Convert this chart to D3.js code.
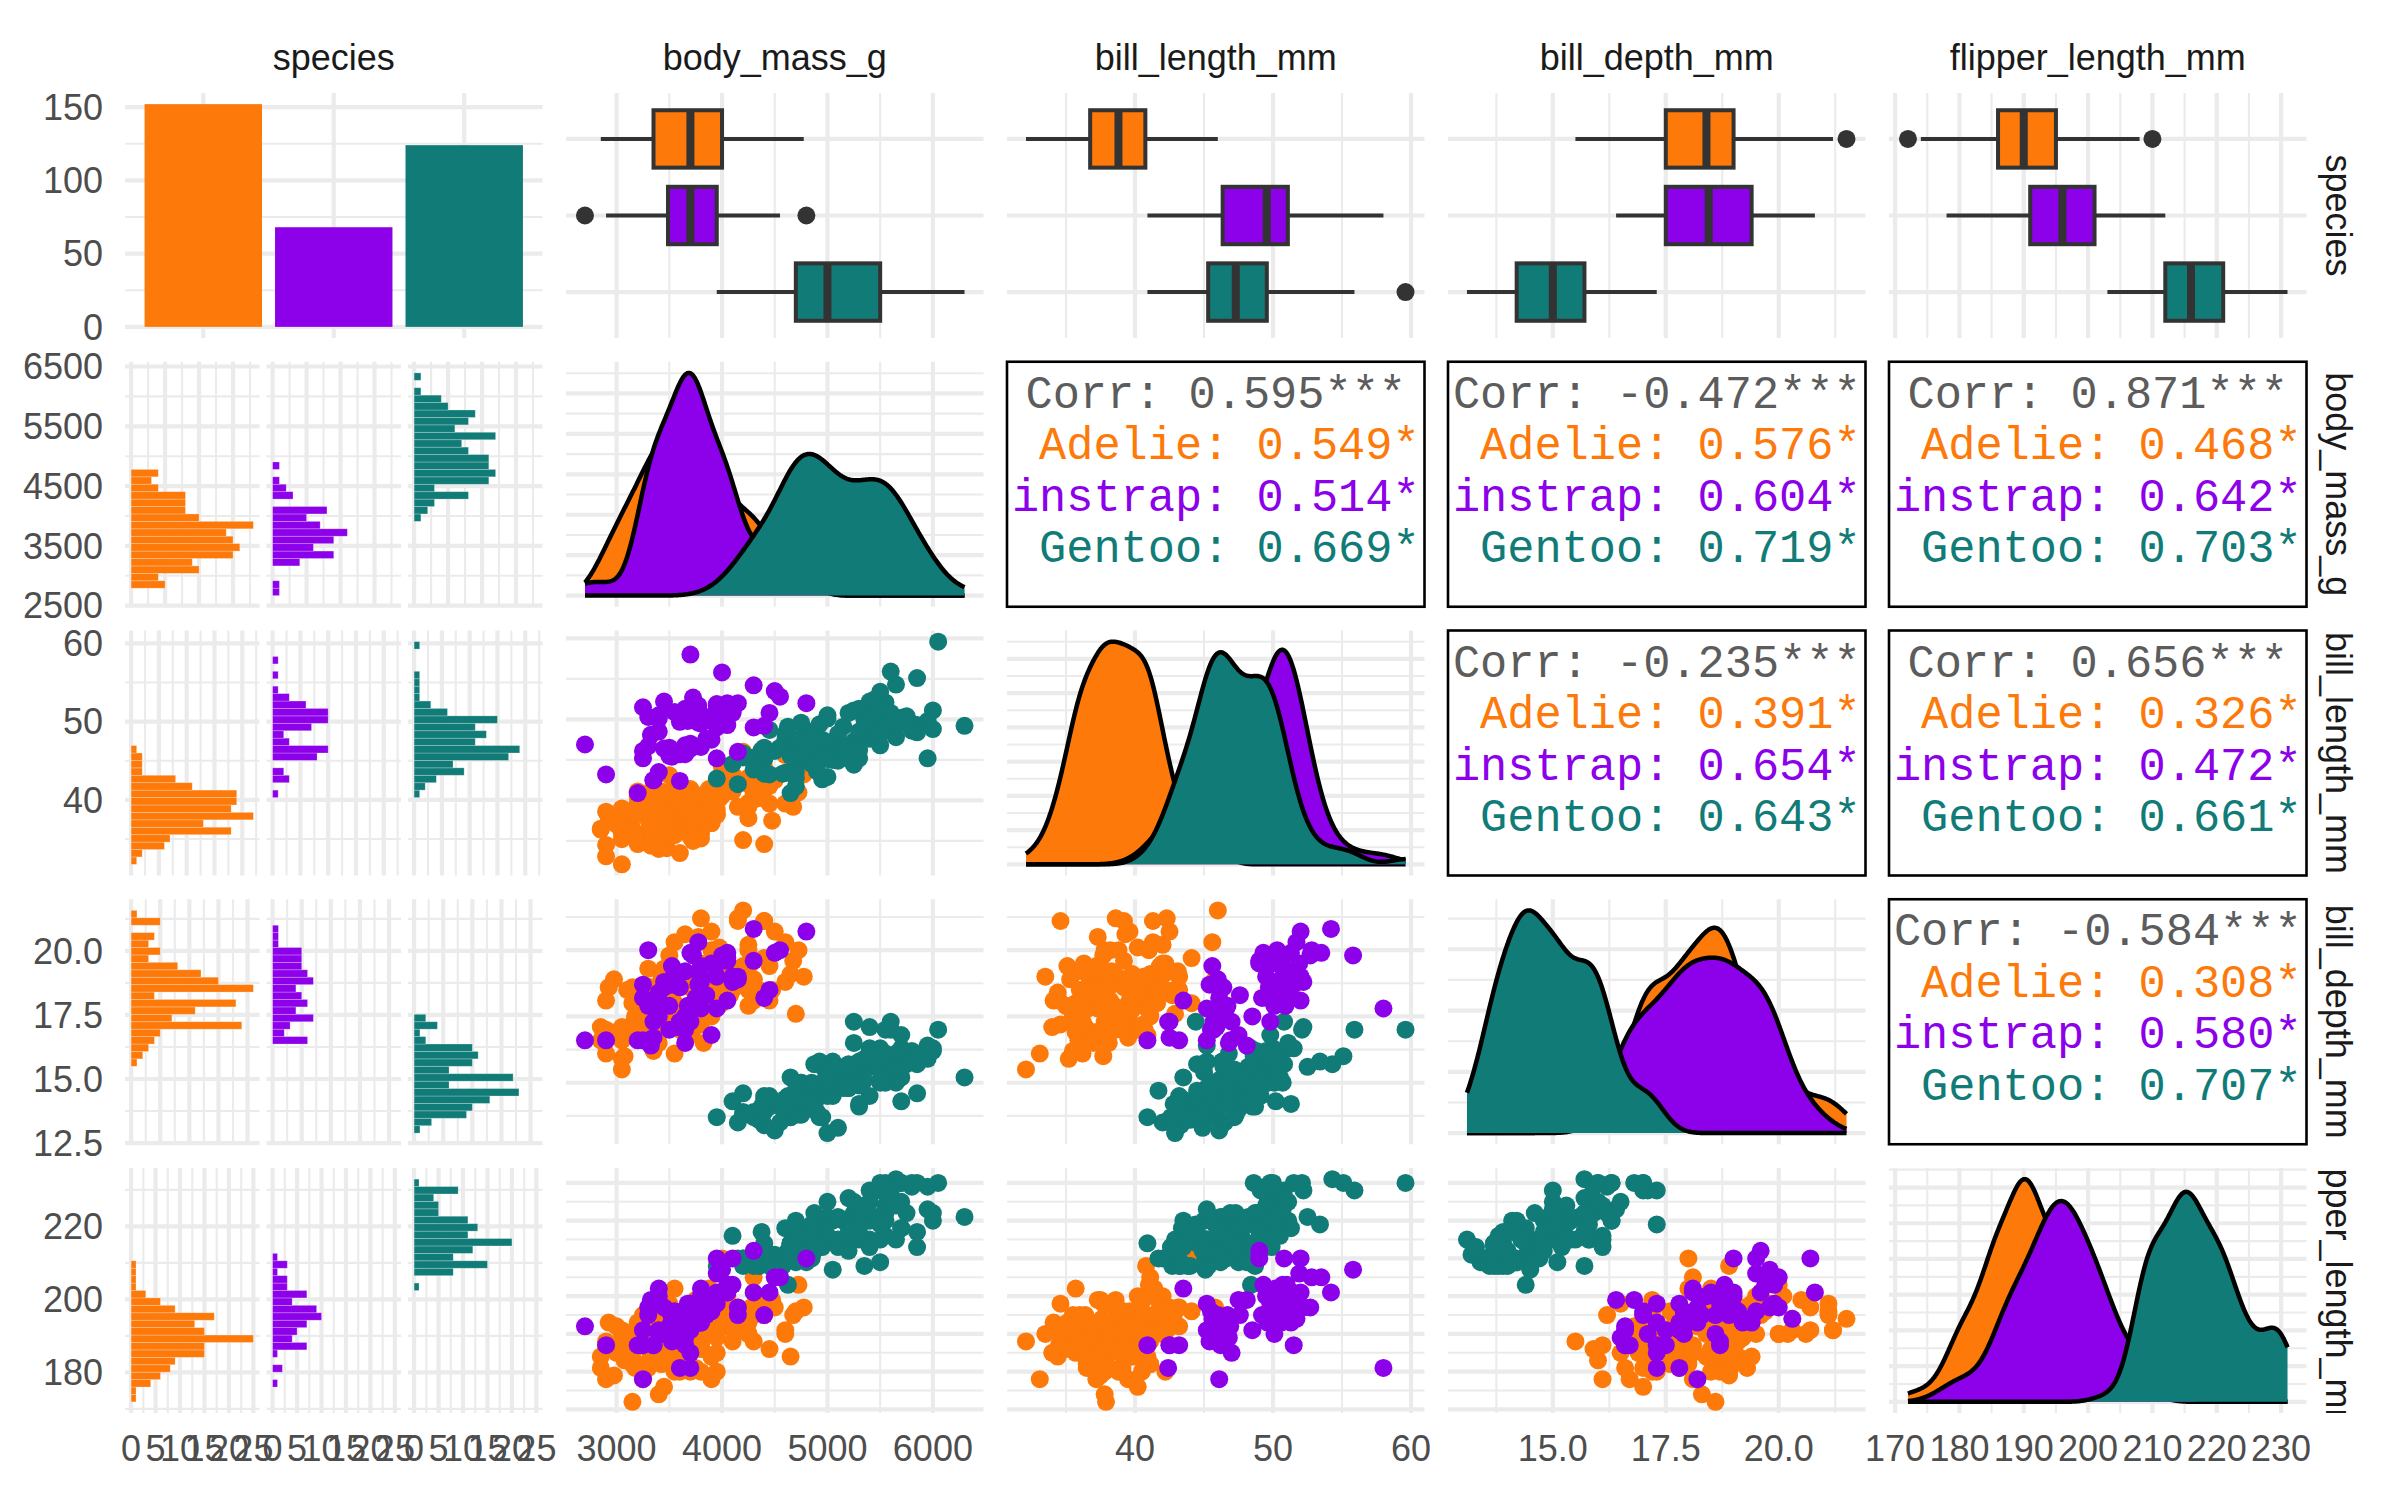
<!DOCTYPE html>
<html>
<head>
<meta charset="utf-8">
<title>penguins pairs</title>
<script src="https://cdn.jsdelivr.net/npm/d3@7"></script>
<style>
  body { margin: 0; background: #ffffff; }
  text { font-family: "Liberation Sans", Arial, Helvetica, sans-serif; }
</style>
</head>
<body>
<svg id="mainframe" width="2400" height="1491"></svg>
<script>
// rows are [bill_length_mm, bill_depth_mm, flipper_length_mm, body_mass_g], null = no measurements
adelie = [
[39.1,18.7,181,3750],[39.5,17.4,186,3800],[40.3,18,195,3250],null,[36.7,19.3,193,3450],[39.3,20.6,190,3650],[38.9,17.8,181,3625],[39.2,19.6,195,4675],[34.1,18.1,193,3475],[42,20.2,190,4250],
[37.8,17.1,186,3300],[37.8,17.3,180,3700],[41.1,17.6,182,3200],[38.6,21.2,191,3800],[34.6,21.1,198,4400],[36.6,17.8,185,3700],[38.7,19,195,3450],[42.5,20.7,197,4500],[34.4,18.4,184,3325],[46,21.5,194,4200],
[37.8,18.3,174,3400],[37.7,18.7,180,3600],[35.9,19.2,189,3800],[38.2,18.1,185,3950],[38.8,17.2,180,3800],[35.3,18.9,187,3800],[40.6,18.6,183,3550],[40.5,17.9,187,3200],[37.9,18.6,172,3150],[40.5,18.9,180,3950],
[39.5,16.7,178,3250],[37.2,18.1,178,3900],[39.5,17.8,188,3300],[40.9,18.9,184,3900],[36.4,17,195,3325],[39.2,21.1,196,4150],[38.8,20,190,3950],[42.2,18.5,180,3550],[37.6,19.3,181,3300],[39.8,19.1,184,4650],
[36.5,18,182,3150],[40.8,18.4,195,3900],[36,18.5,186,3100],[44.1,19.7,196,4400],[37,16.9,185,3000],[39.6,18.8,190,4600],[41.1,19,182,3425],[37.5,18.9,179,2975],[36,17.9,190,3450],[42.3,21.2,191,4150],
[39.6,17.7,186,3500],[40.1,18.9,188,4300],[35,17.9,190,3450],[42,19.5,200,4050],[34.5,18.1,187,2900],[41.4,18.6,191,3700],[39,17.5,186,3550],[40.6,18.8,193,3800],[36.5,16.6,181,2850],[37.6,19.1,194,3750],
[35.7,16.9,185,3150],[41.3,21.1,195,4400],[37.6,17,185,3600],[41.1,18.2,192,4050],[36.4,17.1,184,2850],[41.6,18,192,3950],[35.5,16.2,195,3350],[41.1,19.1,188,4100],[35.9,16.6,190,3050],[41.8,19.4,198,4450],
[33.5,19,190,3600],[39.7,18.4,190,3900],[39.6,17.2,196,3550],[45.8,18.9,197,4150],[35.5,17.5,190,3700],[42.8,18.5,195,4250],[40.9,16.8,191,3700],[37.2,19.4,184,3900],[36.2,16.1,187,3550],[42.1,19.1,195,4000],
[34.6,17.2,189,3200],[42.9,17.6,196,4700],[36.7,18.8,187,3800],[35.1,19.4,193,4200],[37.3,17.8,191,3350],[41.3,20.3,194,3550],[36.3,19.5,190,3800],[36.9,18.6,189,3500],[38.3,19.2,189,3950],[38.9,18.8,190,3600],
[35.7,18,202,3550],[41.1,18.1,205,4300],[34,17.1,185,3400],[39.6,18.1,186,4450],[36.2,17.3,187,3300],[40.8,18.9,208,4300],[38.1,18.6,190,3700],[40.3,18.5,196,4350],[33.1,16.1,178,2900],[43.2,18.5,192,4100],
[35,17.9,192,3725],[41,20,203,4725],[37.7,16,183,3075],[37.8,20,190,4250],[37.9,18.6,193,2925],[39.7,18.9,184,3550],[38.6,17.2,199,3750],[38.2,20,190,3900],[38.1,17,181,3175],[43.2,19,197,4775],
[38.1,16.5,198,3825],[45.6,20.3,191,4600],[39.7,17.7,193,3200],[42.2,19.5,197,4275],[39.6,20.7,191,3900],[42.7,18.3,196,4075],[38.6,17,188,2900],[37.3,20.5,199,3775],[35.7,17,189,3350],[41.1,18.6,189,3325],
[36.2,17.2,187,3150],[37.7,19.8,198,3500],[40.2,17,176,3450],[41.4,18.5,202,3875],[35.2,15.9,186,3050],[40.6,19,199,4000],[38.8,17.6,191,3275],[41.5,18.3,195,4300],[39,17.1,191,3050],[44.1,18,210,4000],
[38.5,17.9,190,3325],[43.1,19.2,197,3500],[36.8,18.5,193,3500],[37.5,18.5,199,4475],[38.1,17.6,187,3425],[41.1,17.5,190,3900],[35.6,17.5,191,3175],[40.2,20.1,200,3975],[37,16.5,185,3400],[39.7,17.9,193,4250],
[40.2,17.1,193,3400],[40.6,17.2,187,3475],[32.1,15.5,188,3050],[40.7,17,190,3725],[37.3,16.8,192,3000],[39,18.7,185,3650],[39.2,18.6,190,4250],[36.6,18.4,184,3475],[36,17.8,195,3450],[37.8,18.1,193,3750],
[36,17.1,187,3700],[41.5,18.5,201,4000]
];

gentoo = [
[46.1,13.2,211,4500],[50,16.3,230,5700],[48.7,14.1,210,4450],[50,15.2,218,5700],[47.6,14.5,215,5400],[46.5,13.5,210,4550],[45.4,14.6,211,4800],[46.7,15.3,219,5200],[43.3,13.4,209,4400],[46.8,15.4,215,5150],
[40.9,13.7,214,4650],[49,16.1,216,5550],[45.5,13.7,214,4650],[48.4,14.6,213,5850],[45.8,14.6,210,4200],[49.3,15.7,217,5850],[42,13.5,210,4150],[49.2,15.2,221,6300],[46.2,14.5,209,4800],[48.7,15.1,222,5350],
[50.2,14.3,218,5700],[45.1,14.5,215,5000],[46.5,14.5,213,4400],[46.3,15.8,215,5050],[42.9,13.1,215,5000],[46.1,15.1,215,5100],[44.5,14.3,216,4100],[47.8,15,215,5650],[48.2,14.3,210,4600],[50,15.3,220,5550],
[47.3,15.3,222,5250],[42.8,14.2,209,4700],[45.1,14.5,207,5050],[59.6,17,230,6050],[49.1,14.8,220,5150],[48.4,16.3,220,5400],[42.6,13.7,213,4950],[44.4,17.3,219,5250],[44,13.6,208,4350],[48.7,15.7,208,5350],
[42.7,13.7,208,3950],[49.6,16,225,5700],[45.3,13.7,210,4300],[49.6,15,216,4750],[50.5,15.9,222,5550],[43.6,13.9,217,4900],[45.5,13.9,210,4200],[50.5,15.9,225,5400],[44.9,13.3,213,5100],[45.2,15.8,215,5300],
[46.6,14.2,210,4850],[48.5,14.1,220,5300],[45.1,14.4,210,4400],[50.1,15,225,5000],[46.5,14.4,217,4900],[45,15.4,220,5050],[43.8,13.9,208,4300],[45.5,15,220,5000],[43.2,14.5,208,4450],[50.4,15.3,224,5550],
[45.3,13.8,208,4200],[46.2,14.9,221,5300],[45.7,13.9,214,4400],[54.3,15.7,231,5650],[45.8,14.2,219,4700],[49.8,16.8,230,5700],[46.2,14.4,214,4650],[49.5,16.2,229,5800],[43.5,14.2,220,4700],[50.7,15,223,5550],
[47.7,15,216,4750],[46.4,15.6,221,5000],[48.2,15.6,221,5100],[46.5,14.8,217,5200],[46.4,15,216,4700],[48.6,16,230,5800],[47.5,14.2,209,4600],[51.1,16.3,220,6000],[45.2,13.8,215,4750],[45.2,16.4,223,5950],
[49.1,14.5,212,4625],[52.5,15.6,221,5450],[47.4,14.6,212,4725],[50,15.9,224,5350],[44.9,13.8,212,4750],[50.8,17.3,228,5600],[43.4,14.4,218,4600],[51.3,14.2,218,5300],[47.5,14,212,4875],[52.1,17,230,5550],
[47.5,15,218,4950],[52.2,17.1,228,5400],[45.5,14.5,212,4750],[49.5,16.1,224,5650],[44.5,14.7,214,4850],[50.8,15.7,226,5200],[49.4,15.8,216,4925],[46.9,14.6,222,4875],[48.4,14.4,203,4625],[51.1,16.5,225,5250],
[48.5,15,219,4850],[55.9,17,228,5600],[47.2,15.5,215,4975],[49.1,15,228,5500],[47.3,13.8,216,4725],[46.8,16.1,215,5500],[41.7,14.7,210,4700],[53.4,15.8,219,5500],[43.3,14,208,4575],[48.1,15.1,209,5500],
[50.5,15.2,216,5000],[49.8,15.9,229,5950],[43.5,15.2,213,4650],[51.5,16.3,230,5500],[46.2,14.1,217,4375],[55.1,16,230,5850],[44.5,15.7,217,4875],[48.8,16.2,222,6000],[47.2,13.7,214,4925],null,
[46.8,14.3,215,4850],[50.4,15.7,222,5750],[45.2,14.8,212,5200],[49.9,16.1,213,5400]
];

chinstrap = [
[46.5,17.9,192,3500],[50,19.5,196,3900],[51.3,19.2,193,3650],[45.4,18.7,188,3525],[52.7,19.8,197,3725],[45.2,17.8,198,3950],[46.1,18.2,178,3250],[51.3,18.2,197,3750],[46,18.9,195,4150],[51.3,19.9,198,3700],
[46.6,17.8,193,3800],[51.7,20.3,194,3775],[47,17.3,185,3700],[52,18.1,201,4050],[45.9,17.1,190,3575],[50.5,19.6,201,4050],[50.3,20,197,3300],[58,17.8,181,3700],[46.4,18.6,190,3450],[49.2,18.2,195,4400],
[42.4,17.3,181,3600],[48.5,17.5,191,3400],[43.2,16.6,187,2900],[50.6,19.4,193,3800],[46.7,17.9,195,3300],[52,19,197,4150],[50.5,18.4,200,3400],[49.5,19,200,3800],[46.4,17.8,191,3700],[52.8,20,205,4550],
[40.9,16.6,187,3200],[54.2,20.8,201,4300],[42.5,16.7,187,3350],[51,18.8,203,4100],[49.7,18.6,195,3600],[47.5,16.8,199,3900],[47.6,18.3,195,3850],[52,20.7,210,4800],[46.9,16.6,192,2700],[53.5,19.9,205,4500],
[49,19.5,210,3950],[46.2,17.5,187,3650],[50.9,19.1,196,3550],[45.5,17,196,3500],[50.9,17.9,196,3675],[50.8,18.5,201,4450],[50.1,17.9,190,3400],[49,19.6,212,4300],[51.5,18.7,187,3250],[49.8,17.3,198,3675],
[48.1,16.4,199,3325],[51.4,19,201,3950],[45.7,17.3,193,3600],[50.7,19.7,203,4050],[42.5,17.3,187,3350],[52.2,18.8,197,3450],[45.2,16.6,191,3250],[49.3,19.9,203,4050],[50.2,18.8,202,3800],[45.6,19.4,194,3525],
[51.9,19.5,206,3950],[46.8,16.5,189,3650],[45.7,17,195,3650],[55.8,19.8,207,4000],[43.5,18.1,202,3400],[49.6,18.2,193,3775],[50.8,19,210,4100],[50.2,18.7,198,3775]
];

speciesNames = ['Adelie', 'Chinstrap', 'Gentoo'];
speciesCols = ['#FC790A', '#8C00EA', '#117B77'];
varNames = ['species', 'body_mass_g', 'bill_length_mm', 'bill_depth_mm', 'flipper_length_mm'];
varColumn = {bill_length_mm: 0, bill_depth_mm: 1, flipper_length_mm: 2, body_mass_g: 3};

// axis breaks
countBreaks = [0, 50, 100, 150];
histCountStep = 5;
contBreaks = {
  body_mass_g: [3000, 4000, 5000, 6000],
  bill_length_mm: [40, 50, 60],
  bill_depth_mm: [15, 17.5, 20],
  flipper_length_mm: [170, 180, 190, 200, 210, 220, 230]
};
histBreaks = {
  body_mass_g: [2500, 3500, 4500, 5500, 6500],
  bill_length_mm: [40, 50, 60],
  bill_depth_mm: [12.5, 15, 17.5, 20],
  flipper_length_mm: [180, 200, 220]
};
labelFormat = {body_mass_g: 'd', bill_length_mm: 'd', bill_depth_mm: '.1f', flipper_length_mm: 'd'};

// correlation labels (upper triangle, row var / column var)
corrPairs = [['body_mass_g', 'bill_length_mm'], ['body_mass_g', 'bill_depth_mm'], ['body_mass_g', 'flipper_length_mm'],
             ['bill_length_mm', 'bill_depth_mm'], ['bill_length_mm', 'flipper_length_mm'], ['bill_depth_mm', 'flipper_length_mm']];
corrAll = ['0.595', '-0.472', '0.871', '-0.235', '0.656', '-0.584'];
corrAdelie = ['0.549', '0.576', '0.468', '0.391', '0.326', '0.308'];
corrChinstrap = ['0.514', '0.604', '0.642', '0.654', '0.472', '0.580'];
corrGentoo = ['0.669', '0.719', '0.703', '0.643', '0.661', '0.707'];
corrStars = '***';

// all rows in file order (Adelie, Gentoo, Chinstrap) - this is also the point drawing order
penguins = [];
[['Adelie', adelie], ['Gentoo', gentoo], ['Chinstrap', chinstrap]].forEach(function(d) {
  d[1].forEach(function(r) { penguins.push({species: d[0], row: r}); });
});
measured = penguins.filter(function(p) { return p.row !== null; });

function val(p, v) { return p.row[varColumn[v]]; }
function valuesOf(v, sp) {
  return measured.filter(function(p) { return !sp || p.species === sp; }).map(function(p) { return val(p, v); });
}
function colOf(sp) { return speciesCols[speciesNames.indexOf(sp)]; }

//layout
margin = {l: 125, t: 93};
panelW = 417.5;
panelH = 245;
colStep = 441;
rowStep = 268.75;
facetGap = 7;
gridCol = '#EBEBEB';
majorW = 4.2;
minorW = 2.1;
tickCol = '#4D4D4D';
stripCol = '#1A1A1A';
fontPx = 36;
boxLine = '#333333';

mainPlot = d3.select('#mainframe');
defs = mainPlot.append('defs');
clipCount = 0;

function addClip(x, y, w, h) {
  var id = 'clip' + (clipCount++);
  defs.append('clipPath').attr('id', id)
    .append('rect').attr('x', x).attr('y', y).attr('width', w).attr('height', h);
  return 'url(#' + id + ')';
}

function expand(d) {
  var s = d[1] - d[0];
  return [d[0] - 0.05 * s, d[1] + 0.05 * s];
}

function majorsIn(br, s) {
  var d = s.domain(), lo = Math.min(d[0], d[1]), hi = Math.max(d[0], d[1]), tol = (hi - lo) * 0.002;
  return br.filter(function(b) { return b >= lo - tol && b <= hi + tol; });
}
function minorsIn(br, s) {
  var d = s.domain(), lo = Math.min(d[0], d[1]), hi = Math.max(d[0], d[1]);
  var step = br[1] - br[0];
  var ext = [br[0] - step].concat(br, [br[br.length - 1] + step]);
  var out = [];
  for (var k = 0; k < ext.length - 1; k++) {
    var m = (ext[k] + ext[k + 1]) / 2;
    if (m >= lo && m <= hi) out.push(m);
  }
  return out;
}

function drawGrid(g, w, h, xs, xMaj, xMin, ys, yMaj, yMin) {
  var gg = g.append('g').attr('class', 'grid');
  function vline(v, sw) {
    gg.append('line').attr('x1', xs(v)).attr('x2', xs(v)).attr('y1', 0).attr('y2', h)
      .attr('stroke', gridCol).attr('stroke-width', sw);
  }
  function hline(v, sw) {
    gg.append('line').attr('x1', 0).attr('x2', w).attr('y1', ys(v)).attr('y2', ys(v))
      .attr('stroke', gridCol).attr('stroke-width', sw);
  }
  xMin.forEach(function(v) { vline(v, minorW); });
  yMin.forEach(function(v) { hline(v, minorW); });
  xMaj.forEach(function(v) { vline(v, majorW); });
  yMaj.forEach(function(v) { hline(v, majorW); });
}

function contScale(v, r0, r1) {
  return d3.scaleLinear().domain(expand(d3.extent(valuesOf(v)))).range([r0, r1]);
}

function panelGroup(i, j) {
  return mainPlot.append('g').attr('transform', 'translate(' + (margin.l + j * colStep) + ',' + (margin.t + i * rowStep) + ')');
}

// gaussian kde with R's nrd0 bandwidth
function nrd0(x) {
  var s = x.slice().sort(d3.ascending);
  var sd = d3.deviation(s);
  var iqr = d3.quantileSorted(s, 0.75) - d3.quantileSorted(s, 0.25);
  var lo = Math.min(sd, iqr / 1.34);
  if (!lo) lo = sd || 1;
  return 0.9 * lo * Math.pow(s.length, -0.2);
}
function kde(x, at) {
  var h = nrd0(x), n = x.length, c = 1 / (n * h * Math.sqrt(2 * Math.PI));
  return at.map(function(g) {
    var s = 0;
    x.forEach(function(v) { var z = (g - v) / h; s += Math.exp(-0.5 * z * z); });
    return s * c;
  });
}

function boxStats(x) {
  var s = x.slice().sort(d3.ascending);
  var q1 = d3.quantileSorted(s, 0.25), q2 = d3.quantileSorted(s, 0.5), q3 = d3.quantileSorted(s, 0.75);
  var iqr = q3 - q1;
  var lo = d3.min(s.filter(function(v) { return v >= q1 - 1.5 * iqr; }));
  var hi = d3.max(s.filter(function(v) { return v <= q3 + 1.5 * iqr; }));
  return {q1: q1, q2: q2, q3: q3, lo: lo, hi: hi, out: s.filter(function(v) { return v < lo || v > hi; })};
}

// histogram bins like stat_bin(bins = 30): width = range/29, boundaries at width/2 + k*width, right closed
function histOf(v) {
  var ext = d3.extent(valuesOf(v));
  var w = (ext[1] - ext[0]) / 29;
  var boundary = w / 2;
  var origin = boundary + Math.floor((ext[0] - boundary) / w) * w;
  var nb = Math.floor((ext[1] + (1 - 1e-8) * w - origin) / w);
  var fuzz = 1e-7 * w;
  var bins = speciesNames.map(function(sp) {
    var c = d3.range(nb).map(function() { return 0; });
    valuesOf(v, sp).forEach(function(x) {
      var k = Math.ceil((x - origin - fuzz) / w) - 1;
      k = Math.max(0, Math.min(nb - 1, k));
      c[k] += 1;
    });
    return c;
  });
  return {b0: origin, w: w, nb: nb, bins: bins, maxCount: d3.max(bins, function(c) { return d3.max(c); })};
}

function unitScale(n, len) {
  // discrete positions with ggplot's 0.6 expansion
  var u = len / (n + 0.2);
  return {u: u, pos: function(k) { return (k + 0.6) * u; }};
}

histScales = {};
contScalesX = {};

// ---- panels ----
for (var i = 0; i < 5; i++) {
  for (var j = 0; j < 5; j++) {
    var g = panelGroup(i, j);
    var vy = varNames[i], vx = varNames[j];

    if (i === 0 && j === 0) {
      // species counts
      var counts = speciesNames.map(function(sp) { return penguins.filter(function(p) { return p.species === sp; }).length; });
      var xu = unitScale(3, panelW);
      var yc = d3.scaleLinear().domain(expand([0, d3.max(counts)])).range([panelH, 0]);
      histScales.species = yc;
      drawGrid(g, panelW, panelH, function(k) { return xu.pos(k); }, [0, 1, 2], [], yc, majorsIn(countBreaks, yc), minorsIn(countBreaks, yc));
      g.selectAll('rect.bar').data(counts).enter().append('rect')
        .attr('x', function(d, k) { return xu.pos(k) - 0.45 * xu.u; })
        .attr('width', 0.9 * xu.u)
        .attr('y', function(d) { return yc(d); })
        .attr('height', function(d) { return yc(0) - yc(d); })
        .attr('fill', function(d, k) { return speciesCols[k]; });
    } else if (i === 0) {
      // boxplots of the column variable by species
      var xs = contScale(vx, 0, panelW);
      contScalesX[vx] = xs;
      var yu = unitScale(3, panelH);
      drawGrid(g, panelW, panelH, xs, majorsIn(contBreaks[vx], xs), minorsIn(contBreaks[vx], xs),
               function(k) { return yu.pos(k); }, [0, 1, 2], []);
      speciesNames.forEach(function(sp, k) {
        var st = boxStats(valuesOf(vx, sp));
        var cy = yu.pos(k), bh = 0.75 * yu.u;
        g.append('line').attr('x1', xs(st.lo)).attr('x2', xs(st.hi)).attr('y1', cy).attr('y2', cy)
          .attr('stroke', boxLine).attr('stroke-width', 4);
        g.append('rect').attr('x', xs(st.q1)).attr('width', xs(st.q3) - xs(st.q1))
          .attr('y', cy - bh / 2).attr('height', bh)
          .attr('fill', speciesCols[k]).attr('stroke', boxLine).attr('stroke-width', 4);
        g.append('line').attr('x1', xs(st.q2)).attr('x2', xs(st.q2)).attr('y1', cy - bh / 2).attr('y2', cy + bh / 2)
          .attr('stroke', boxLine).attr('stroke-width', 8);
        st.out.forEach(function(o) {
          g.append('circle').attr('cx', xs(o)).attr('cy', cy).attr('r', 9).attr('fill', boxLine);
        });
      });
    } else if (j === 0) {
      // faceted histograms, one strip per species
      var h = histOf(vy);
      var yh = d3.scaleLinear().domain(expand([h.b0, h.b0 + h.nb * h.w])).range([panelH, 0]);
      histScales[vy] = yh;
      var subW = (panelW - 2 * facetGap) / 3;
      var xh = d3.scaleLinear().domain(expand([0, h.maxCount])).range([0, subW]);
      var cTicks = d3.range(0, h.maxCount + 1e-9, histCountStep);
      if (i === 4) { histScales.bottomCount = xh; histScales.bottomTicks = cTicks; histScales.subW = subW; }
      speciesNames.forEach(function(sp, k) {
        var sg = g.append('g').attr('transform', 'translate(' + (k * (subW + facetGap)) + ',0)');
        drawGrid(sg, subW, panelH, xh, cTicks, minorsIn(cTicks, xh), yh, majorsIn(histBreaks[vy], yh), minorsIn(histBreaks[vy], yh));
        h.bins[k].forEach(function(c, b) {
          if (c === 0) return;
          var lo = h.b0 + b * h.w, hi = lo + h.w;
          sg.append('rect').attr('x', xh(0)).attr('width', xh(c) - xh(0))
            .attr('y', yh(hi)).attr('height', yh(lo) - yh(hi))
            .attr('fill', speciesCols[k]).attr('stroke', '#ffffff').attr('stroke-width', 0.8).attr('stroke-opacity', 0.3);
        });
      });
    } else if (i === j) {
      // density on the diagonal
      var xs = contScale(vx, 0, panelW);
      contScalesX[vx] = xs;
      var ext = d3.extent(valuesOf(vx));
      var at = d3.range(512).map(function(k) { return ext[0] + k * (ext[1] - ext[0]) / 511; });
      var dens = speciesNames.map(function(sp) { return kde(valuesOf(vx, sp), at); });
      var maxD = d3.max(dens, function(d) { return d3.max(d); });
      var yd = d3.scaleLinear().domain(expand([0, maxD])).range([panelH, 0]);
      var dTicks = d3.ticks(yd.domain()[0], yd.domain()[1], 5);
      drawGrid(g, panelW, panelH, xs, majorsIn(contBreaks[vx], xs), minorsIn(contBreaks[vx], xs), yd, dTicks, minorsIn(dTicks, yd));
      var area = d3.area().x(function(d, k) { return xs(at[k]); }).y0(yd(0)).y1(function(d) { return yd(d); });
      var line = d3.line().x(function(d, k) { return xs(at[k]); }).y(function(d) { return yd(d); });
      dens.forEach(function(d, k) {
        g.append('path').attr('d', area(d)).attr('fill', speciesCols[k]);
        g.append('path').attr('d', line(d)).attr('fill', 'none').attr('stroke', '#000000')
          .attr('stroke-width', 4.5).attr('stroke-linejoin', 'round');
      });
    } else if (i < j) {
      // correlation text box
      var ci = -1;
      corrPairs.forEach(function(p, k) { if (p[0] === vy && p[1] === vx) ci = k; });
      var cg = g.append('g').attr('clip-path', addClip(0, 0, panelW, panelH));
      // group keys are right justified to the longest name, then each line is centred
      var lines = [
        {t: 'Corr: ' + corrAll[ci] + corrStars, c: '#5C5C5C'},
        {t: 'Adelie'.padStart(9) + ': ' + corrAdelie[ci] + corrStars, c: speciesCols[0]},
        {t: 'Chinstrap'.padStart(9) + ': ' + corrChinstrap[ci] + corrStars, c: speciesCols[1]},
        {t: 'Gentoo'.padStart(9) + ': ' + corrGentoo[ci] + corrStars, c: speciesCols[2]}
      ];
      var baseY = [46, 97.5, 149, 200.5];
      lines.forEach(function(l, k) {
        cg.append('text').attr('x', panelW / 2).attr('y', baseY[k])
          .attr('text-anchor', 'middle').attr('xml:space', 'preserve').style('white-space', 'pre')
          .style('font-family', '"Liberation Mono", "DejaVu Sans Mono", monospace')
          .style('font-size', '45.3px').attr('fill', l.c).text(l.t);
      });
      g.append('rect').attr('x', 0).attr('y', 0).attr('width', panelW).attr('height', panelH)
        .attr('fill', 'none').attr('stroke', '#000000').attr('stroke-width', 2.6);
    } else {
      // scatter, points in row order
      var xs = contScale(vx, 0, panelW);
      var ys = contScale(vy, panelH, 0);
      drawGrid(g, panelW, panelH, xs, majorsIn(contBreaks[vx], xs), minorsIn(contBreaks[vx], xs),
               ys, majorsIn(contBreaks[vy], ys), minorsIn(contBreaks[vy], ys));
      var pg = g.append('g').attr('clip-path', addClip(0, 0, panelW, panelH));
      pg.selectAll('circle').data(measured).enter().append('circle')
        .attr('cx', function(p) { return xs(val(p, vx)); })
        .attr('cy', function(p) { return ys(val(p, vy)); })
        .attr('r', 9)
        .attr('fill', function(p) { return colOf(p.species); });
    }
  }
}

// ---- strips ----
varNames.forEach(function(v, k) {
  mainPlot.append('text')
    .attr('x', margin.l + k * colStep + panelW / 2).attr('y', 70)
    .attr('text-anchor', 'middle').style('font-size', fontPx + 'px').attr('fill', stripCol).text(v);

  var top = margin.t + k * rowStep;
  mainPlot.append('g').attr('clip-path', addClip(2310, top, 90, panelH))
    .append('text')
    .attr('transform', 'translate(2326,' + (top + panelH / 2) + ') rotate(90)')
    .attr('text-anchor', 'middle').style('font-size', fontPx + 'px').attr('fill', stripCol).text(v);
});

// ---- left axis labels (taken from the first column panels) ----
varNames.forEach(function(v, i) {
  var s = histScales[v];
  var br = i === 0 ? countBreaks : histBreaks[v];
  var fmt = d3.format(i === 0 ? 'd' : labelFormat[v]);
  majorsIn(br, s).forEach(function(b) {
    mainPlot.append('text')
      .attr('x', 103).attr('y', margin.t + i * rowStep + s(b)).attr('dy', '0.355em')
      .attr('text-anchor', 'end').style('font-size', fontPx + 'px').attr('fill', tickCol).text(fmt(b));
  });
});

// ---- bottom axis labels (taken from the last row panels) ----
labY = 1448;
speciesNames.forEach(function(sp, k) {
  histScales.bottomTicks.forEach(function(b) {
    mainPlot.append('text')
      .attr('x', margin.l + k * (histScales.subW + facetGap) + histScales.bottomCount(b)).attr('y', labY).attr('dy', '0.355em')
      .attr('text-anchor', 'middle').style('font-size', fontPx + 'px').attr('fill', tickCol).text(b);
  });
});
varNames.slice(1).forEach(function(v, k) {
  var s = contScalesX[v];
  var fmt = d3.format(labelFormat[v]);
  majorsIn(contBreaks[v], s).forEach(function(b) {
    mainPlot.append('text')
      .attr('x', margin.l + (k + 1) * colStep + s(b)).attr('y', labY).attr('dy', '0.355em')
      .attr('text-anchor', 'middle').style('font-size', fontPx + 'px').attr('fill', tickCol).text(fmt(b));
  });
});
</script>
</body>
</html>
